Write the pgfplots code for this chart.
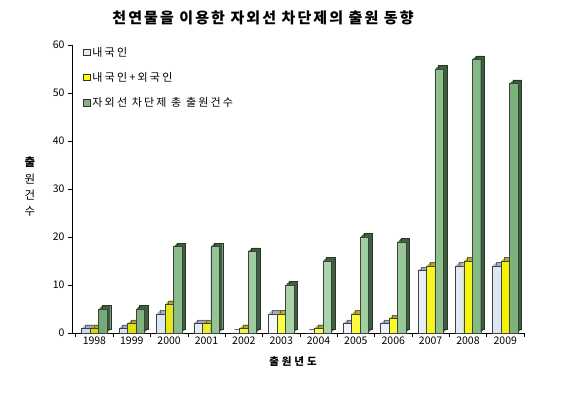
\documentclass[border=0pt]{standalone}
\usepackage{fontspec}
\setmainfont{Noto Sans CJK KR}
\newfontfamily\titlefont[LetterSpace=14]{Noto Sans CJK KR}
\newfontfamily\labfont[LetterSpace=28]{Noto Sans CJK KR}
\newfontfamily\legfont[LetterSpace=20]{Noto Sans CJK KR}
\usepackage{pgfplots}
\usepackage{pgfplotstable}
\pgfplotsset{compat=1.18}

\definecolor{bF1}{HTML}{CBDBEE}
\definecolor{bF2}{HTML}{F8FAFD}
\definecolor{bF3}{HTML}{DCE6F2}
\definecolor{bS}{HTML}{A2AAC4}
\definecolor{yF1}{HTML}{D8D800}
\definecolor{yF2}{HTML}{FFFF50}
\definecolor{yF3}{HTML}{F2F200}
\definecolor{yS}{HTML}{ACA63E}
\definecolor{gF1}{HTML}{74A874}
\definecolor{gF2}{HTML}{AEDAAE}
\definecolor{gF3}{HTML}{7AB27A}
\definecolor{gS}{HTML}{3E5E40}
\definecolor{lB}{HTML}{E4ECF6}
\definecolor{lY}{HTML}{FFFF00}
\definecolor{lG}{HTML}{7FB47F}

\pgfplotstableread{
x a b c
0 1 1 5
1 1 2 5
2 4 6 18
3 2 2 18
4 0 1 17
5 4 4 10
6 0 1 15
7 2 4 20
8 2 3 19
9 13 14 55
10 14 15 57
11 14 15 52
}\data

\newcommand{\barset}[6]{%
 \addplot[ybar, bar width=8.5pt, bar shift=#2, fill=#3, draw=none, xshift=0.9pt, yshift=0.9pt, forget plot] table[x=x,y=#1]{\data};
 \addplot[ybar, bar width=8.5pt, bar shift=#2, fill=#3, draw=none, xshift=1.8pt, yshift=1.8pt, forget plot] table[x=x,y=#1]{\data};
 \addplot[ybar, bar width=8.5pt, bar shift=#2, fill=#3, draw=none, xshift=2.7pt, yshift=2.7pt, forget plot] table[x=x,y=#1]{\data};
 \addplot[ybar, bar width=8.5pt, bar shift=#2, fill=#3, draw=#3!60!black, line width=0.3pt, xshift=3.5pt, yshift=3.5pt, forget plot] table[x=x,y=#1]{\data};
 \addplot[ybar, bar width=8.5pt, bar shift=#2, left color=#4, right color=#6, middle color=#5, draw=black!75, line width=0.35pt, forget plot] table[x=x,y=#1]{\data};
}

\begin{document}
\begin{tikzpicture}
\path[use as bounding box] (0,0) rectangle (579pt,394pt);
\begin{axis}[
  at={(72pt,61pt)}, anchor=south west,
  scale only axis, width=452pt, height=288pt,
  xmin=-0.6, xmax=11.5, ymin=0, ymax=60,
  axis x line*=bottom, axis y line*=left,
  axis line style={black, line width=0.6pt},
  clip=false,
  tick align=outside, major tick length=4pt,
  ytick={0,10,...,60},
  xtick={-0.5,0.5,...,11.5}, xticklabels={},
  extra x ticks={0,1,...,11},
  extra x tick labels={1998,1999,2000,2001,2002,2003,2004,2005,2006,2007,2008,2009},
  extra x tick style={major tick length=0pt},
  tick style={black, line width=0.5pt},
  /pgf/number format/assume math mode=true,
  /pgf/number format/1000 sep={},
  tick label style={font=\fontsize{10.5}{12}\selectfont},
  title={\titlefont\bfseries 천연물을 이용한 자외선 차단제의 출원 동향},
  title style={at={(axis description cs:0.4226,1)}, anchor=center, yshift=21pt, font=\fontsize{15}{17}\selectfont},
  xlabel={\labfont\bfseries 출원년도},
  xlabel style={at={(axis description cs:0.489,-0.1)}, anchor=center, font=\fontsize{10.5}{12}\selectfont},
  ylabel={\bfseries 출\\원\\건\\수},
  ylabel style={at={(axis description cs:-0.093,0.507)}, anchor=center, rotate=-90, align=center, font=\fontsize{11.5}{16.4}\selectfont},
  legend style={at={(axis description cs:0.025,1.0)}, anchor=north west, draw=none, fill=none,
     font=\legfont\fontsize{11}{12}\selectfont, row sep=10.5pt, inner sep=0pt},
  legend cell align=left,
  legend image code/.code={\draw[#1, draw=black!80, line width=0.4pt] (0pt,-3pt) rectangle (6.5pt,3.5pt);},
]
\barset{a}{-8.5pt}{bS}{bF1}{bF2}{bF3}
\barset{b}{0pt}{yS}{yF1}{yF2}{yF3}
\barset{c}{8.5pt}{gS}{gF1}{gF2}{gF3}
\addlegendimage{fill=lB}
\addlegendentry{내국인}
\addlegendimage{fill=lY}
\addlegendentry{내국인+외국인}
\addlegendimage{fill=lG}
\addlegendentry{자외선 차단제 총 출원건수}
\end{axis}
\end{tikzpicture}
\end{document}
